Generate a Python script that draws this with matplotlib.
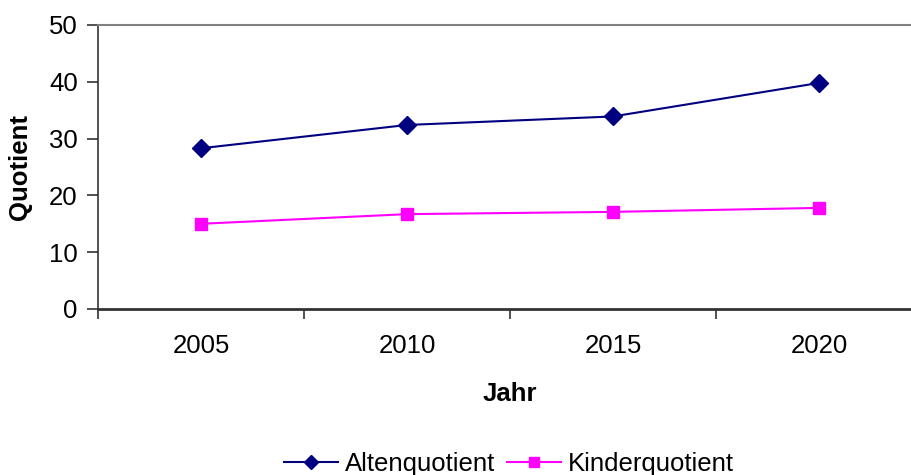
import matplotlib
matplotlib.use("Agg")
import matplotlib.pyplot as plt
from matplotlib.ticker import FixedLocator

years = ["2005", "2010", "2015", "2020"]
alten = [28.3, 32.4, 33.9, 39.8]
kinder = [15.0, 16.7, 17.1, 17.8]
yticks = [0, 10, 20, 30, 40, 50]

plt.rcParams['font.family'] = ['Liberation Sans', 'DejaVu Sans']

FS = 18.5
W, H = 911, 475
fig = plt.figure(figsize=(W / 100, H / 100), dpi=100)
ax = fig.add_axes([98 / W, 1 - 309 / H, (922 - 98) / W, (309 - 25) / H])

x = list(range(len(years)))
ax.plot(x, alten, color='#000080', lw=1.5, marker='D', markersize=9,
        label='Altenquotient', clip_on=False)
ax.plot(x, kinder, color='#FF00FF', lw=1.5, marker='s', markersize=9,
        label='Kinderquotient', clip_on=False)

ax.set_xlim(-0.5, len(years) - 0.5)
ax.set_ylim(0, 50)
ax.set_xticks(x)
ax.set_xticklabels(years, fontsize=FS)
ax.xaxis.set_minor_locator(FixedLocator([i - 0.5 for i in range(len(years) + 1)]))
ax.tick_params(axis='x', which='major', length=0, pad=18)
ax.tick_params(axis='x', which='minor', length=7, width=1.2, color='#333333', direction='out')
ax.set_yticks(yticks)
ax.set_yticklabels([str(v) for v in yticks], fontsize=FS)
ax.tick_params(axis='y', length=8, width=1.2, color='#333333', pad=6.5)

ax.spines['right'].set_visible(False)
ax.spines['top'].set_color('#808080')
ax.spines['top'].set_linewidth(1.5)
ax.spines['left'].set_color('#333333')
ax.spines['left'].set_linewidth(1.2)
ax.spines['bottom'].set_color('#333333')
ax.spines['bottom'].set_linewidth(2)

ax.set_xlabel('Jahr', fontsize=FS, fontweight='bold', labelpad=17)
ax.set_ylabel('Quotient', fontsize=FS, fontweight='bold', labelpad=12)

fig.legend(loc='center', bbox_to_anchor=(509 / W, 1 - 464 / H), ncol=2,
           frameon=False, fontsize=FS, handlelength=2.1, handletextpad=0.27,
           columnspacing=0.45, borderpad=0, markerscale=0.75)

fig.savefig('out.png', dpi=100)
